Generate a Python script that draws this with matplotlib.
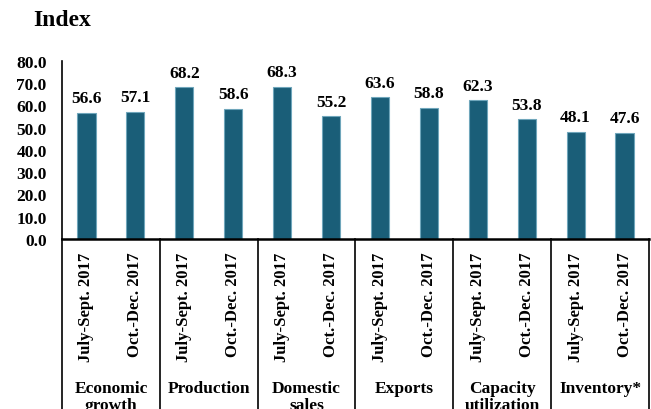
import matplotlib.pyplot as plt
import numpy as np

groups = ['Economic\ngrowth', 'Production', 'Domestic\nsales', 'Exports',
          'Capacity\nutilization', 'Inventory*']
periods = ['July-Sept. 2017', 'Oct.-Dec. 2017']
values = [56.6, 57.1, 68.2, 58.6, 68.3, 55.2, 63.6, 58.8, 62.3, 53.8, 48.1, 47.6]
yticks = [0, 10, 20, 30, 40, 50, 60, 70, 80]

plt.rcParams['font.family'] = ['Liberation Serif', 'DejaVu Serif']
plt.rcParams['font.weight'] = 'bold'

fig = plt.figure(figsize=(6.51, 4.10), dpi=100)
ax = fig.add_axes([62 / 651, 170 / 410, 587 / 651, 178 / 410])

x = np.arange(len(values))
bars = ax.bar(x, values, width=0.37, color='#1a5e78', edgecolor='#6fa6bb', linewidth=0.8)

for xi, v in zip(x, values):
    ax.text(xi, v + 3, f'{v:.1f}', ha='center', va='bottom', fontsize=12.5, fontweight='bold')

ax.set_xlim(-0.5, len(values) - 0.5)
ax.set_ylim(0, 80)
ax.set_yticks(yticks)
ax.set_yticklabels([f'{t:.1f}' for t in yticks], fontsize=12.5, fontweight='bold')
ax.tick_params(axis='y', length=0, pad=11)
ax.set_xticks([])
for s in ['top', 'right']:
    ax.spines[s].set_visible(False)
ax.spines['left'].set_linewidth(1.2)
ax.spines['bottom'].set_linewidth(1.8)

trans = ax.get_xaxis_transform()
for xi in x:
    ax.text(xi, -0.07, periods[xi % 2], rotation=90, ha='center', va='top',
            fontsize=12, fontweight='bold', transform=trans)
# group names, second line runs off the bottom like in the original
for g, name in enumerate(groups):
    ax.text(2 * g + 0.5, -0.79, name, ha='center', va='top', fontsize=12.5,
            fontweight='bold', transform=trans, linespacing=1.15)
for b in range(len(groups) + 1):
    ax.plot([2 * b - 0.5, 2 * b - 0.5], [0, -1.4], color='black', lw=1.2,
            transform=trans, clip_on=False)

fig.text(33 / 651, 1 - 20 / 410, 'Index', ha='left', va='center', fontsize=17, fontweight='bold')

fig.savefig('out.png', dpi=100)
